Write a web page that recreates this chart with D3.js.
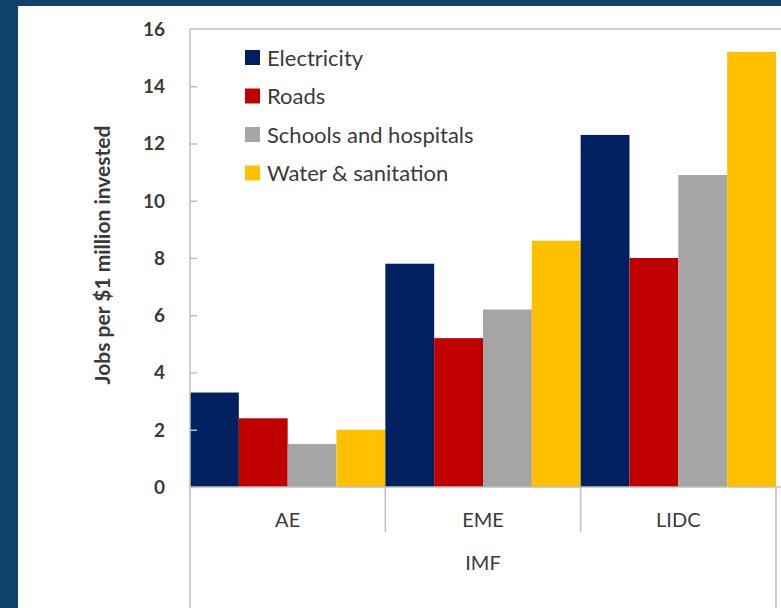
<!DOCTYPE html>
<html>
<head>
<meta charset="utf-8">
<script src="https://cdn.jsdelivr.net/npm/d3@7"></script>
<style>
  body { margin: 0; background: #10426a; }
  svg { display: block; }
  text { font-family: Lato, "Open Sans", sans-serif; fill: #3a3a3a; }
</style>
</head>
<body>
<div id="chart"></div>
<script>
// Data
const categories = ["AE", "EME", "LIDC"];
const seriesNames = ["Electricity", "Roads", "Schools and hospitals", "Water & sanitation"];
const electricity = [3.3, 7.8, 12.3];
const roads = [2.4, 5.2, 8.0];
const schools = [1.5, 6.2, 10.9];
const water = [2.0, 8.6, 15.2];
const yTicks = [0, 2, 4, 6, 8, 10, 12, 14, 16];
const groupLabel = "IMF";
const yTitle = "Jobs per $1 million invested";

const colors = ["#002060", "#c00000", "#a5a5a5", "#ffc000"];
const seriesValues = [electricity, roads, schools, water];

const W = 781, H = 608;
let svg = d3.select("#chart").append("svg")
  .attr("width", W)
  .attr("height", H);

// dark frame + white panel
svg.append("rect").attr("x", 0).attr("y", 0).attr("width", W).attr("height", H).attr("fill", "#10426a");
svg.append("rect").attr("x", 18).attr("y", 6).attr("width", W - 18).attr("height", H - 6).attr("fill", "#fff");

let plot = { left: 190, right: 776, top: 29, bottom: 487 };

let x0 = d3.scaleBand().domain(categories).range([plot.left, plot.right]).padding(0);
let x1 = d3.scaleBand().domain(seriesNames).range([0, x0.bandwidth()]).padding(0);
let y = d3.scaleLinear().domain([0, 16]).range([plot.bottom, plot.top]);

// table for bars
let rows = [];
categories.forEach((c, i) => {
  seriesNames.forEach((s, j) => {
    rows.push({ cat: c, series: s, value: seriesValues[j][i], color: colors[j] });
  });
});

// bars
svg.append("g").attr("id", "bars")
  .selectAll("rect").data(rows).enter().append("rect")
  .attr("x", d => x0(d.cat) + x1(d.series))
  .attr("y", d => y(d.value))
  .attr("width", x1.bandwidth())
  .attr("height", d => y(0) - y(d.value))
  .attr("fill", d => d.color);

const axisColor = "#bfbfbf";

// top border line of the plot area
svg.append("line")
  .attr("x1", plot.left).attr("x2", W)
  .attr("y1", y(16)).attr("y2", y(16))
  .attr("stroke", axisColor).attr("stroke-width", 1.5);

// y axis: ticks inward, labels on the left
let yAxis = svg.append("g").attr("transform", "translate(" + plot.left + ",0)")
  .call(d3.axisRight(y).tickValues(yTicks.slice(0, -1)).tickSize(7).tickFormat(""));
yAxis.select(".domain").remove();
yAxis.selectAll("line").attr("stroke", axisColor).attr("stroke-width", 1.5);

svg.append("g").selectAll("text").data(yTicks).enter().append("text")
  .attr("x", 165)
  .attr("y", d => y(d))
  .attr("dy", "0.36em")
  .attr("text-anchor", "end")
  .attr("font-size", 19)
  .attr("font-weight", 700)
  .text(d => d);

// y axis line extends down through the category rows
svg.append("line")
  .attr("x1", plot.left).attr("x2", plot.left)
  .attr("y1", plot.top).attr("y2", H)
  .attr("stroke", axisColor).attr("stroke-width", 1.5);

// x axis baseline
svg.append("line")
  .attr("x1", plot.left).attr("x2", W)
  .attr("y1", y(0)).attr("y2", y(0))
  .attr("stroke", axisColor).attr("stroke-width", 1.5);

// category separators (short inside, long at the outer edge)
categories.slice(1).forEach(c => {
  svg.append("line")
    .attr("x1", x0(c)).attr("x2", x0(c))
    .attr("y1", y(0)).attr("y2", 532)
    .attr("stroke", axisColor).attr("stroke-width", 1.5);
});
svg.append("line")
  .attr("x1", plot.right).attr("x2", plot.right)
  .attr("y1", y(0)).attr("y2", H)
  .attr("stroke", axisColor).attr("stroke-width", 1.5);

// category labels
svg.append("g").selectAll("text").data(categories).enter().append("text")
  .attr("x", d => x0(d) + x0.bandwidth() / 2)
  .attr("y", 527)
  .attr("text-anchor", "middle")
  .attr("font-size", 20)
  .text(d => d);

svg.append("text")
  .attr("x", (plot.left + plot.right) / 2)
  .attr("y", 570)
  .attr("text-anchor", "middle")
  .attr("font-size", 20)
  .text(groupLabel);

// y title
svg.append("text")
  .attr("transform", "translate(110," + 255 + ") rotate(-90)")
  .attr("text-anchor", "middle")
  .attr("font-size", 21)
  .attr("font-weight", 700)
  .text(yTitle);

// legend
let legend = svg.append("g").attr("transform", "translate(245,58)");
seriesNames.forEach((s, i) => {
  let g = legend.append("g").attr("transform", "translate(0," + i * 38.5 + ")");
  g.append("rect").attr("x", 0).attr("y", -8).attr("width", 15).attr("height", 15).attr("fill", colors[i]);
  g.append("text").attr("x", 22).attr("y", 0).attr("dy", "0.35em")
    .attr("font-size", 22).text(s);
});
</script>
</body>
</html>
